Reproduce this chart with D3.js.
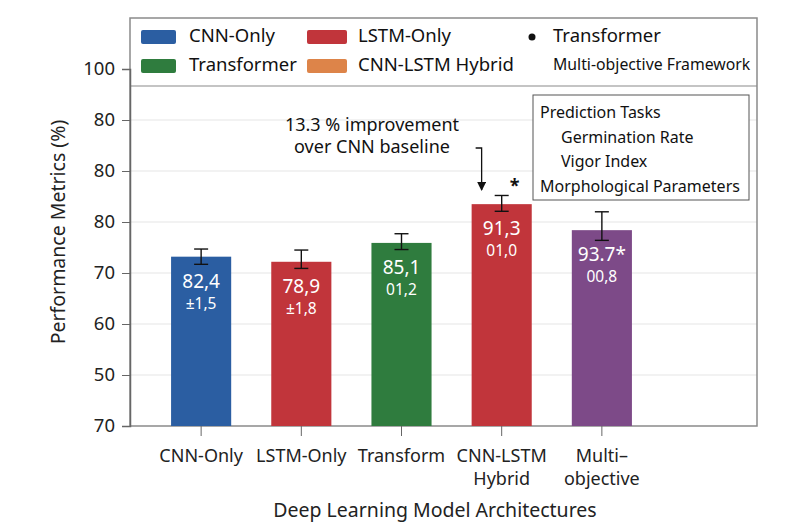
<!DOCTYPE html>
<html>
<head>
<meta charset="utf-8">
<script src="https://cdn.jsdelivr.net/npm/d3@7"></script>
<style>
  body { margin: 0; background: #fff; }
  text { font-family: "Noto Sans", "Open Sans", sans-serif; }
</style>
</head>
<body>
<div id="chart"></div>
<script>
// data
var categories = ["CNN-Only", "LSTM-Only", "Transform", "CNN-LSTM", "Multi-objective"];
var tickLines = [["CNN-Only"], ["LSTM-Only"], ["Transform"], ["CNN-LSTM", "Hybrid"], ["Multi–", "objective"]];
var values = [73.2, 72.2, 75.9, 83.5, 78.4];
var errHigh = [74.7, 74.5, 77.7, 85.2, 82.0];
var errLow = [71.7, 70.9, 74.6, 82.1, 76.4];
var valueLabels = ["82,4", "78,9", "85,1", "91,3", "93.7*"];
var errLabels = ["±1,5", "±1,8", "01,2", "01,0", "00,8"];
var barColors = ["#2b5ea2", "#c1353b", "#2f7c3e", "#c1353b", "#7d4a88"];
var yTickValues = [40, 50, 60, 70, 80, 90, 100, 110];
var yTickLabels = ["70", "50", "60", "70", "80", "80", "80", "100"];
var legendSwatches = [
  { label: "CNN-Only", color: "#2b5ea2" },
  { label: "LSTM-Only", color: "#c1353b" },
  { label: "Transformer", color: "#2f7c3e" },
  { label: "CNN-LSTM Hybrid", color: "#dd8449" },
];
var taskLines = ["Prediction Tasks", "Germination Rate", "Vigor Index", "Morphological Parameters"];

var chart = {
  width: 789,
  height: 527,
  top: 18,
  right: 757,
  bottom: 426,
  left: 130,
  legendBottom: 86,
};

var svg = d3
  .select("#chart")
  .append("svg")
  .attr("width", chart.width)
  .attr("height", chart.height);

var x = d3
  .scaleBand()
  .domain(categories)
  .range([chart.left, 673])
  .paddingInner(0.4)
  .paddingOuter(0.41);

var y = d3
  .scaleLinear()
  .domain([40, 110])
  .range([chart.bottom, 69]);

/* gridlines */
svg
  .append("g")
  .selectAll("line")
  .data(yTickValues.filter((v) => v > 40 && v < 110))
  .join("line")
  .attr("x1", chart.left)
  .attr("x2", chart.right)
  .attr("y1", (d) => y(d))
  .attr("y2", (d) => y(d))
  .attr("stroke", "#e6e6e6")
  .attr("stroke-width", 1.2);

/* frame */
svg
  .append("rect")
  .attr("x", chart.left)
  .attr("y", chart.top)
  .attr("width", chart.right - chart.left)
  .attr("height", chart.bottom - chart.top)
  .attr("fill", "none")
  .attr("stroke", "#8a8a8a")
  .attr("stroke-width", 1.5);

svg
  .append("line")
  .attr("x1", chart.left)
  .attr("x2", chart.right)
  .attr("y1", chart.legendBottom)
  .attr("y2", chart.legendBottom)
  .attr("stroke", "#8a8a8a")
  .attr("stroke-width", 1.2);

/* y axis */
var yAxis = (g) =>
  g
    .attr("transform", `translate(${chart.left}, 0)`)
    .call(
      d3.axisLeft(y)
        .tickValues(yTickValues)
        .tickSize(8)
        .tickPadding(7)
        .tickFormat((d, i) => yTickLabels[i])
    )
    .call((g) => g.select(".domain").attr("stroke", "#666").attr("stroke-width", 1.5))
    .call((g) => g.selectAll(".tick line").attr("stroke", "#666"))
    .call((g) =>
      g.selectAll(".tick text")
        .attr("fill", "#222")
        .style("font-size", "18.5px")
        .style("font-family", "'Noto Sans', sans-serif")
    );

svg.append("g").call(yAxis);

svg
  .append("text")
  .attr("transform", "translate(60, 232) rotate(-90)")
  .attr("text-anchor", "middle")
  .attr("dominant-baseline", "middle")
  .attr("fill", "#222")
  .style("font-size", "19.5px")
  .text("Performance Metrics (%)");

/* x axis ticks and labels */
var xg = svg.append("g");

xg.selectAll("line")
  .data(categories)
  .join("line")
  .attr("x1", (d) => x(d) + x.bandwidth() / 2)
  .attr("x2", (d) => x(d) + x.bandwidth() / 2)
  .attr("y1", chart.bottom)
  .attr("y2", chart.bottom + 10)
  .attr("stroke", "#666");

xg.selectAll("text")
  .data(categories)
  .join("text")
  .attr("x", (d) => x(d) + x.bandwidth() / 2)
  .attr("y", 462)
  .attr("text-anchor", "middle")
  .attr("fill", "#222")
  .style("font-size", "18px")
  .each(function (d, i) {
    d3.select(this)
      .selectAll("tspan")
      .data(tickLines[i])
      .join("tspan")
      .attr("x", x(d) + x.bandwidth() / 2)
      .attr("dy", (t, j) => (j === 0 ? 0 : 23))
      .text((t) => t);
  });

svg
  .append("text")
  .attr("x", 435)
  .attr("y", 517)
  .attr("text-anchor", "middle")
  .attr("fill", "#222")
  .style("font-size", "19.5px")
  .text("Deep Learning Model Architectures");

/* bars */
svg
  .append("g")
  .selectAll("rect")
  .data(categories)
  .join("rect")
  .attr("x", (d) => x(d))
  .attr("y", (d, i) => y(values[i]))
  .attr("width", x.bandwidth())
  .attr("height", (d, i) => y(40) - y(values[i]))
  .attr("fill", (d, i) => barColors[i]);

/* error bars */
var eb = svg
  .append("g")
  .attr("stroke", "#111")
  .attr("stroke-width", 1.4)
  .selectAll("g")
  .data(categories)
  .join("g");

eb.append("line")
  .attr("x1", (d) => x(d) + x.bandwidth() / 2)
  .attr("x2", (d) => x(d) + x.bandwidth() / 2)
  .attr("y1", (d, i) => y(errLow[i]))
  .attr("y2", (d, i) => y(errHigh[i]));

eb.append("line")
  .attr("x1", (d) => x(d) + x.bandwidth() / 2 - 7)
  .attr("x2", (d) => x(d) + x.bandwidth() / 2 + 7)
  .attr("y1", (d, i) => y(errLow[i]))
  .attr("y2", (d, i) => y(errLow[i]));

eb.append("line")
  .attr("x1", (d) => x(d) + x.bandwidth() / 2 - 7)
  .attr("x2", (d) => x(d) + x.bandwidth() / 2 + 7)
  .attr("y1", (d, i) => y(errHigh[i]))
  .attr("y2", (d, i) => y(errHigh[i]));

/* value labels inside bars */
var labels = svg.append("g").attr("fill", "#fff").attr("text-anchor", "middle");

labels
  .selectAll(".val")
  .data(categories)
  .join("text")
  .attr("class", "val")
  .attr("x", (d) => x(d) + x.bandwidth() / 2)
  .attr("y", (d, i) => y(values[i]) + 31)
  .style("font-size", "19px")
  .text((d, i) => valueLabels[i]);

labels
  .selectAll(".err")
  .data(categories)
  .join("text")
  .attr("class", "err")
  .attr("x", (d) => x(d) + x.bandwidth() / 2)
  .attr("y", (d, i) => y(values[i]) + 52)
  .style("font-size", "15.5px")
  .text((d, i) => errLabels[i]);

/* annotation with arrow */
var hybrid = categories[3];
var arrowX = x(hybrid) + 10;

svg
  .append("defs")
  .append("marker")
  .attr("id", "arrow")
  .attr("viewBox", "0 0 10 10")
  .attr("refX", 9)
  .attr("refY", 5)
  .attr("markerWidth", 7)
  .attr("markerHeight", 7)
  .attr("orient", "auto")
  .append("path")
  .attr("d", "M0,0 L10,5 L0,10 Z")
  .attr("fill", "#111");

svg
  .append("path")
  .attr("d", `M${arrowX - 6},148 L${arrowX},148 L${arrowX},190`)
  .attr("fill", "none")
  .attr("stroke", "#111")
  .attr("stroke-width", 1.3)
  .attr("marker-end", "url(#arrow)");

svg
  .append("text")
  .attr("x", 372)
  .attr("y", 131)
  .attr("text-anchor", "middle")
  .attr("fill", "#111")
  .style("font-size", "18px")
  .text("13.3 % improvement");

svg
  .append("text")
  .attr("x", 372)
  .attr("y", 153)
  .attr("text-anchor", "middle")
  .attr("fill", "#111")
  .style("font-size", "18px")
  .text("over CNN baseline");

svg
  .append("text")
  .attr("x", x(hybrid) + x.bandwidth() / 2 + 13)
  .attr("y", 192)
  .attr("text-anchor", "middle")
  .attr("fill", "#111")
  .style("font-size", "18px")
  .style("font-weight", "bold")
  .text("*");

/* prediction tasks box */
svg
  .append("rect")
  .attr("x", 533)
  .attr("y", 95)
  .attr("width", 216)
  .attr("height", 105)
  .attr("fill", "#fff")
  .attr("stroke", "#555")
  .attr("stroke-width", 1);

svg
  .append("g")
  .selectAll("text")
  .data(taskLines)
  .join("text")
  .attr("x", (d, i) => (i === 1 || i === 2 ? 561 : 540))
  .attr("y", (d, i) => 118 + i * 24.5)
  .attr("fill", "#111")
  .style("font-size", "16px")
  .text((d) => d);

/* legend */
var legend = svg.append("g");

legend
  .selectAll("rect")
  .data(legendSwatches)
  .join("rect")
  .attr("x", (d, i) => (i % 2 === 0 ? 141 : 307))
  .attr("y", (d, i) => (i < 2 ? 30 : 59))
  .attr("width", (d, i) => (i % 2 === 0 ? 35 : 40))
  .attr("height", 14)
  .attr("rx", 2)
  .attr("fill", (d) => d.color);

legend
  .selectAll("text")
  .data(legendSwatches)
  .join("text")
  .attr("x", (d, i) => (i % 2 === 0 ? 189 : 358))
  .attr("y", (d, i) => (i < 2 ? 37 : 66))
  .attr("dominant-baseline", "middle")
  .attr("fill", "#111")
  .style("font-size", "18.5px")
  .text((d) => d.label);

legend
  .append("circle")
  .attr("cx", 532)
  .attr("cy", 37)
  .attr("r", 3.5)
  .attr("fill", "#111");

legend
  .append("text")
  .attr("x", 553)
  .attr("y", 37)
  .attr("dominant-baseline", "middle")
  .attr("fill", "#111")
  .style("font-size", "18.5px")
  .text("Transformer");

legend
  .append("text")
  .attr("x", 553)
  .attr("y", 66)
  .attr("dominant-baseline", "middle")
  .attr("fill", "#111")
  .style("font-size", "15.8px")
  .text("Multi-objective Framework");
</script>
</body>
</html>
